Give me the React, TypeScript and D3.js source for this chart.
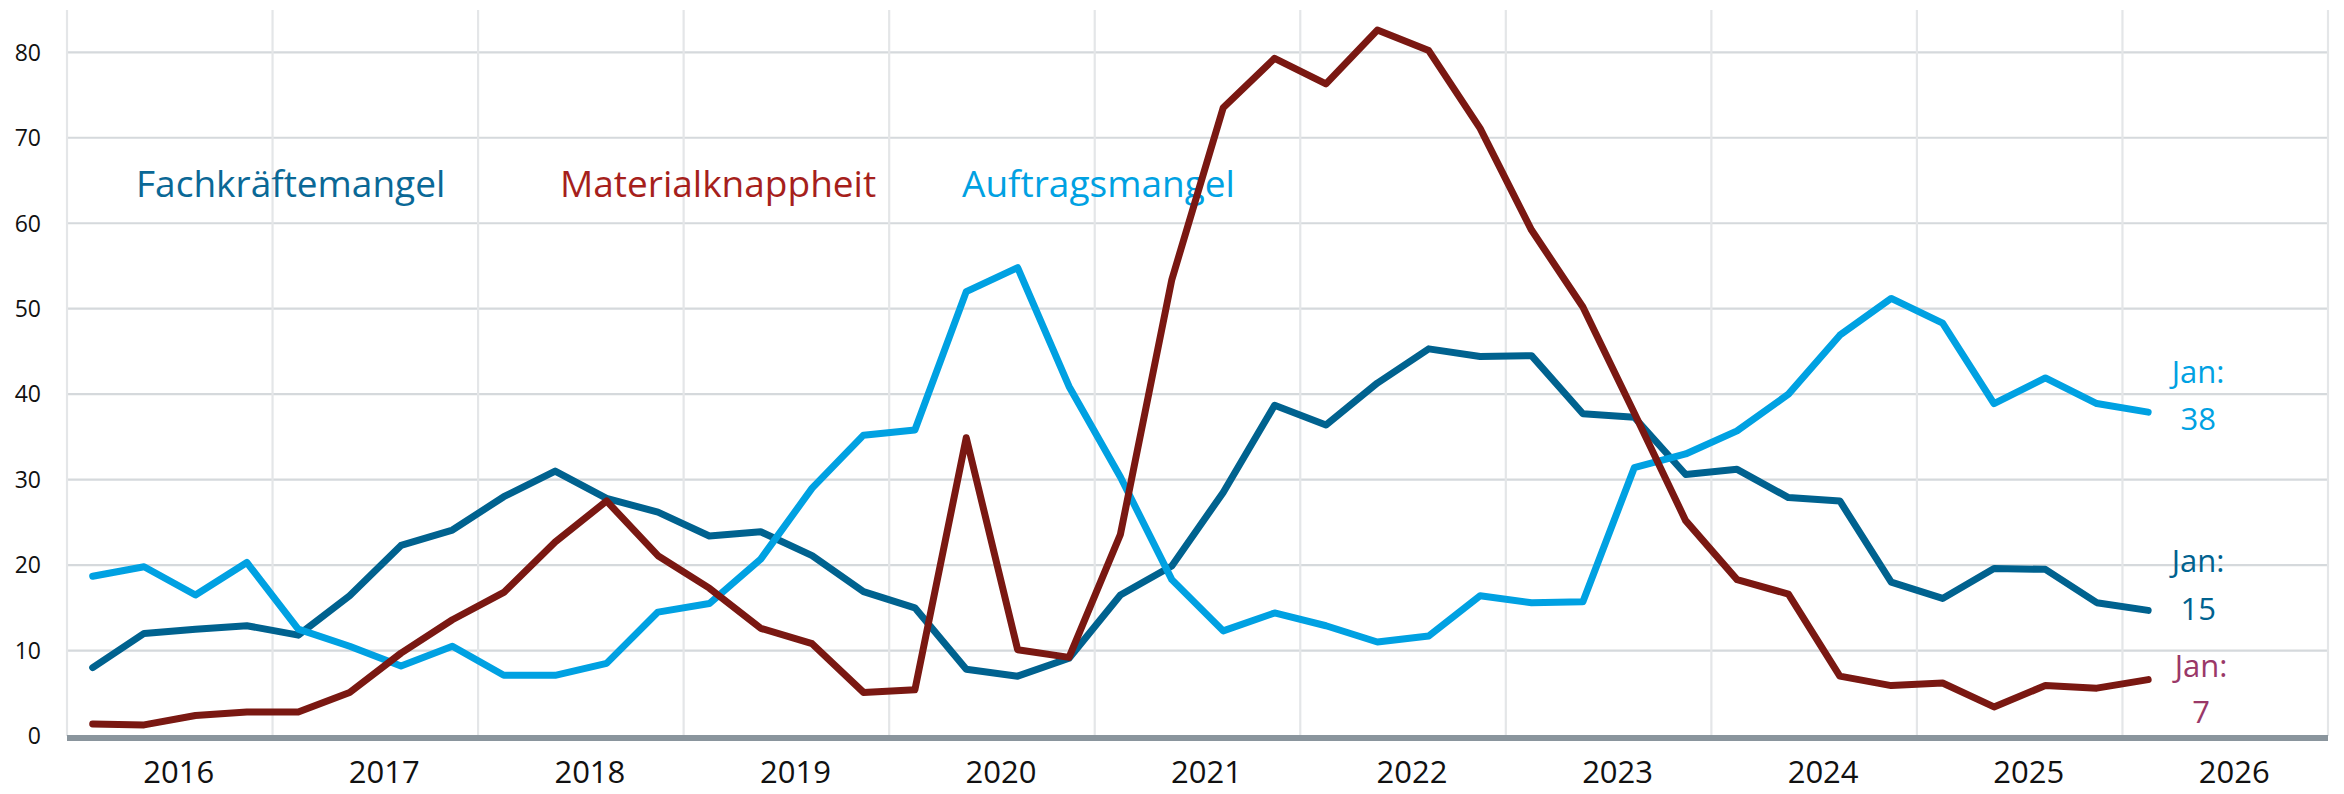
import React, { useEffect } from "react";
import * as d3 from "d3";

// ---- data ----
const YEARS = [2016, 2017, 2018, 2019, 2020, 2021, 2022, 2023, 2024, 2025, 2026];
const QUARTERS = [0, 1, 2, 3];
const Y_TICKS = [0, 10, 20, 30, 40, 50, 60, 70, 80];

const FACHKRAEFTE = [8.0, 12.0, 12.5, 12.9, 11.8, 16.4, 22.3, 24.1, 28.0, 31.0, 27.8, 26.2, 23.4, 23.9, 21.1, 16.9, 15.0, 7.8, 7.0, 9.1, 16.5, 19.9, 28.5, 38.7, 36.4, 41.3, 45.3, 44.4, 44.5, 37.7, 37.3, 30.6, 31.2, 27.9, 27.5, 18.0, 16.1, 19.6, 19.5, 15.6, 14.7];
const MATERIAL = [1.4, 1.3, 2.4, 2.8, 2.8, 5.1, 9.7, 13.6, 16.8, 22.7, 27.5, 21.1, 17.3, 12.6, 10.8, 5.1, 5.4, 34.9, 10.1, 9.2, 23.6, 53.4, 73.5, 79.3, 76.3, 82.6, 80.2, 71.1, 59.2, 50.2, 37.8, 25.2, 18.3, 16.6, 7.0, 5.9, 6.2, 3.4, 5.9, 5.6, 6.6];
const AUFTRAG = [18.7, 19.8, 16.5, 20.3, 12.5, 10.5, 8.2, 10.5, 7.1, 7.1, 8.5, 14.5, 15.5, 20.7, 29.0, 35.2, 35.8, 52.0, 54.8, 40.9, 30.3, 18.3, 12.3, 14.4, 12.9, 11.0, 11.7, 16.4, 15.6, 15.7, 31.4, 33.0, 35.7, 40.0, 46.9, 51.2, 48.3, 38.9, 41.9, 38.9, 37.9];

const SERIES_NAMES = ["Fachkräftemangel", "Materialknappheit", "Auftragsmangel"];
const LAST_LABELS = ["Jan:", "15", "Jan:", "7", "Jan:", "38"];

// periods: quarter positions (as fractional years)
const PERIODS: number[] = [];
YEARS.forEach((y) => QUARTERS.forEach((q) => PERIODS.push(y + (q + 0.5) / 4)));

const W = 2344;
const H = 794;
const LEFT = 67;
const RIGHT = 2328;
const TOP = 10;

const x = d3.scaleLinear().domain([2016, 2027]).range([LEFT, RIGHT]);
const y = d3.scaleLinear().domain([0, 80]).range([736, 52.3]);

const FONT = "'Open Sans', 'Liberation Sans', Arial, sans-serif";

const C_FACH = "#00628f";
const C_FACH_T = "#0a6896";
const C_MAT = "#7a1812";
const C_MAT_T = "#a61f1c";
const C_AUF = "#00a1e2";
const C_JAN7 = "#9a3868";

export default function App() {
  useEffect(() => {
    document.body.style.margin = "0";
  }, []);

  const line = d3
    .line<number>()
    .x((_, i) => x(PERIODS[i]))
    .y((d) => y(d))
    .curve(d3.curveLinear);

  const lastX = x(PERIODS[FACHKRAEFTE.length - 1]);
  const labelX = lastX + 50;

  const series = [
    { data: FACHKRAEFTE, color: C_FACH },
    { data: AUFTRAG, color: C_AUF },
    { data: MATERIAL, color: C_MAT },
  ];

  return (
    <svg width={W} height={H} style={{ display: "block", position: "absolute", left: 0, top: 0 }} fontFamily={FONT}>
      <rect width={W} height={H} fill="#fff" />
      {/* horizontal gridlines */}
      {Y_TICKS.filter((t) => t > 0).map((t) => (
        <line key={"h" + t} x1={LEFT} x2={RIGHT} y1={y(t)} y2={y(t)} stroke="#d5d9dc" strokeWidth={2.2} />
      ))}
      {/* vertical gridlines */}
      {YEARS.concat([2027]).map((yr) => (
        <line key={"v" + yr} x1={x(yr)} x2={x(yr)} y1={TOP} y2={y(0)} stroke="#e4e6e8" strokeWidth={2.2} />
      ))}
      {/* y tick labels */}
      {Y_TICKS.map((t) => (
        <text key={"yt" + t} x={41} y={y(t)} dy="0.36em" textAnchor="end" fontSize={23} fill="#111">
          {t}
        </text>
      ))}
      {/* year labels */}
      {YEARS.map((yr) => (
        <text key={"yl" + yr} x={x(yr + 0.5) + 9} y={783} textAnchor="middle" fontSize={31} fill="#111">
          {yr}
        </text>
      ))}
      {/* legend texts */}
      <text x={136} y={197} fontSize={37} fill={C_FACH_T}>{SERIES_NAMES[0]}</text>
      <text x={560} y={197} fontSize={37} fill={C_MAT_T}>{SERIES_NAMES[1]}</text>
      <text x={962} y={197} fontSize={37} fill={C_AUF}>{SERIES_NAMES[2]}</text>
      {/* lines */}
      {series.map((s, k) => (
        <path key={"s" + k} d={line(s.data) || ""} fill="none" stroke={s.color} strokeWidth={7} strokeLinejoin="round" strokeLinecap="round" />
      ))}
      {/* zero axis */}
      <line x1={LEFT} x2={RIGHT} y1={y(0) + 2} y2={y(0) + 2} stroke="#8a959d" strokeWidth={6} />
      {/* end labels */}
      <text x={labelX} y={383} textAnchor="middle" fontSize={31} fill={C_AUF}>{LAST_LABELS[4]}</text>
      <text x={labelX} y={430} textAnchor="middle" fontSize={31} fill={C_AUF}>{LAST_LABELS[5]}</text>
      <text x={labelX} y={572} textAnchor="middle" fontSize={31} fill={C_FACH}>{LAST_LABELS[0]}</text>
      <text x={labelX} y={620} textAnchor="middle" fontSize={31} fill={C_FACH}>{LAST_LABELS[1]}</text>
      <text x={labelX + 3} y={677} textAnchor="middle" fontSize={31} fill={C_JAN7}>{LAST_LABELS[2]}</text>
      <text x={labelX + 3} y={723} textAnchor="middle" fontSize={31} fill={C_JAN7}>{LAST_LABELS[3]}</text>
    </svg>
  );
}
